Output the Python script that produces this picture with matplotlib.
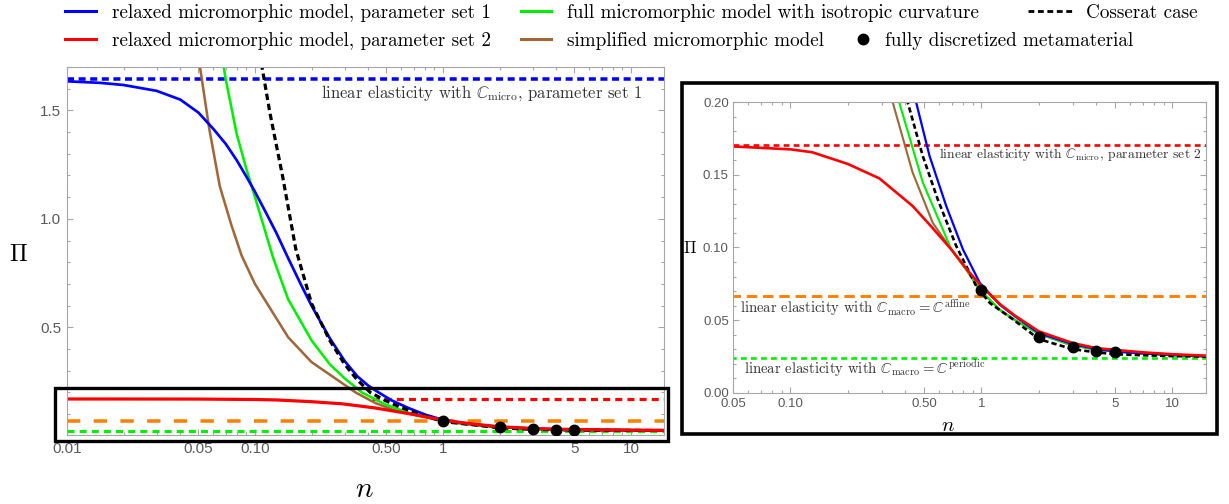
import numpy as np
import matplotlib
matplotlib.use('Agg')
import matplotlib.pyplot as plt
from matplotlib.lines import Line2D
from matplotlib.patches import Rectangle
from matplotlib.ticker import FixedLocator, FixedFormatter, NullFormatter, LogLocator

plt.rcParams['font.family'] = ['cmr10', 'DejaVu Serif']
plt.rcParams['mathtext.fontset'] = 'cm'
plt.rcParams['axes.formatter.use_mathtext'] = True

# ---- data ----
n_set1 = [0.01, 0.015, 0.02, 0.03, 0.04, 0.05, 0.06, 0.07, 0.08, 0.09, 0.1, 0.115, 0.13, 0.15, 0.175, 0.2,
          0.25, 0.3, 0.35, 0.4, 0.455, 0.535, 0.654, 0.8, 0.98, 1.25, 1.5, 2, 3, 4, 5, 7, 10, 15]
pi_set1 = [1.634, 1.627, 1.617, 1.59, 1.55, 1.49, 1.415, 1.345, 1.27, 1.195, 1.125, 1.025, 0.935, 0.82, 0.70, 0.60,
           0.45, 0.345, 0.275, 0.232, 0.200, 0.163, 0.1286, 0.0987, 0.0757, 0.0605, 0.0525, 0.041, 0.0335, 0.030,
           0.0285, 0.027, 0.026, 0.025]

n_set2 = [0.01, 0.02, 0.05, 0.1, 0.13, 0.2, 0.292, 0.436, 0.55, 0.695, 0.85, 1.0, 1.25, 1.5, 2, 3, 4, 5, 7, 10, 15]
pi_set2 = [0.1700, 0.1699, 0.1696, 0.1676, 0.1656, 0.1575, 0.1476, 0.1286, 0.114, 0.0987, 0.084, 0.0733, 0.061,
           0.053, 0.0422, 0.0342, 0.0307, 0.0295, 0.0278, 0.0265, 0.0255]

n_full = [0.06, 0.07, 0.08, 0.09, 0.1, 0.125, 0.15, 0.2, 0.25, 0.3, 0.371, 0.493, 0.6, 0.695, 0.834, 0.98,
          1.25, 1.5, 2, 3, 4, 5, 7, 10, 15]
pi_full = [2.0, 1.64, 1.39, 1.23, 1.10, 0.82, 0.63, 0.44, 0.33, 0.265, 0.200, 0.1448, 0.1185, 0.0987, 0.0849,
           0.071, 0.057, 0.050, 0.0405, 0.0325, 0.0297, 0.0283, 0.027, 0.0258, 0.025]

n_simp = [0.045, 0.05, 0.057, 0.065, 0.075, 0.085, 0.1, 0.15, 0.2, 0.3, 0.343, 0.436, 0.556, 0.695, 0.834, 0.98,
          1.25, 1.5, 2, 3, 4, 5, 7, 10, 15]
pi_simp = [2.1, 1.75, 1.42, 1.15, 0.97, 0.83, 0.70, 0.455, 0.34, 0.235, 0.200, 0.1517, 0.117, 0.0987, 0.0845,
           0.071, 0.057, 0.050, 0.0405, 0.0325, 0.0297, 0.0283, 0.027, 0.0258, 0.025]

n_coss = [0.1, 0.108, 0.12, 0.14, 0.165, 0.2, 0.25, 0.3, 0.35, 0.411, 0.493, 0.591, 0.738, 0.94, 1.106, 1.47,
          2, 3, 4, 5, 7, 10, 15]
pi_coss = [1.95, 1.72, 1.49, 1.2, 0.86, 0.61, 0.44, 0.33, 0.258, 0.200, 0.163, 0.133, 0.101, 0.0733, 0.0618,
           0.0503, 0.0369, 0.030, 0.0278, 0.0265, 0.0258, 0.0252, 0.0249]

n_fem = [1, 2, 3, 4, 5]
pi_fem = [0.0705, 0.0387, 0.0314, 0.029, 0.0277]

pi_micro1 = 1.643
pi_micro2 = 0.1705
pi_affine = 0.0665
pi_periodic = 0.0242

labels = ['relaxed micromorphic model, parameter set 1',
          'relaxed micromorphic model, parameter set 2',
          'full micromorphic model with isotropic curvature',
          'simplified micromorphic model',
          'Cosserat case',
          'fully discretized metamaterial']

xt_left = [0.01, 0.05, 0.1, 0.5, 1, 5, 10]
xl_left = ['0.01', '0.05', '0.10', '0.50', '1', '5', '10']
xt_right = [0.05, 0.1, 0.5, 1, 5, 10]
xl_right = ['0.05', '0.10', '0.50', '1', '5', '10']
yt_left = [0.5, 1.0, 1.5]
yl_left = ['0.5', '1.0', '1.5']
yt_right = [0.0, 0.05, 0.10, 0.15, 0.20]
yl_right = ['0.00', '0.05', '0.10', '0.15', '0.20']

BLUE, RED, GREEN, BROWN, ORANGE = '#0000ff', '#ff0000', '#00ee00', '#a0673a', '#ff8000'
FRAME = '#a6a6a6'

W, H = 1229, 504
fig = plt.figure(figsize=(W / 100, H / 100), dpi=100)
def frac(x0, y0, x1, y1):
    return [x0 / W, 1 - y1 / H, (x1 - x0) / W, (y1 - y0) / H]

axL = fig.add_axes(frac(67, 67, 664, 435))
axR = fig.add_axes(frac(733, 102.3, 1206, 392.7))

def curves(ax, s, red_from):
    ax.plot([0.01, 15], [pi_micro1] * 2, color=BLUE, lw=2.2 * s, dashes=(2.0, 1.3))
    ax.plot([red_from, 15], [pi_micro2] * 2, color=RED, lw=2.0 * s, dashes=(2.2, 1.6))
    ax.plot([0.01, 15], [pi_affine] * 2, color=ORANGE, lw=2.2 * s, dashes=(3.6, 2.0) if s < 1 else (3.8, 3.8))
    ax.plot([0.01, 15], [pi_periodic] * 2, color=GREEN, lw=2.0 * s, dashes=(2.2, 1.6))
    ax.plot(n_simp, pi_simp, color=BROWN, lw=1.6 * s)
    ax.plot(n_full, pi_full, color=GREEN, lw=1.6 * s)
    ax.plot(n_set1, pi_set1, color=BLUE, lw=1.7 * s)
    ax.plot(n_coss, pi_coss, color='black', lw=2.0 * s, dashes=(2.0, 1.2))
    ax.plot(n_set2, pi_set2, color=RED, lw=2.0 * s)
    ax.plot(n_fem, pi_fem, 'o', color='black', ms=7.5, zorder=5)

def frame(ax, xt, xl, yt, yl, ymin_minor, ymax_minor, ystep, fs):
    ax.set_xscale('log')
    ax.xaxis.set_major_locator(FixedLocator(xt))
    ax.xaxis.set_major_formatter(FixedFormatter(xl))
    ax.xaxis.set_minor_locator(LogLocator(base=10, subs=np.arange(2, 10)))
    ax.xaxis.set_minor_formatter(NullFormatter())
    ax.yaxis.set_major_locator(FixedLocator(yt))
    ax.yaxis.set_major_formatter(FixedFormatter(yl))
    ax.yaxis.set_minor_locator(FixedLocator(np.arange(ymin_minor, ymax_minor, ystep)))
    ax.tick_params(which='both', direction='in', top=True, right=True, color=FRAME, width=0.8)
    ax.tick_params(which='major', length=4.5, labelsize=fs, labelcolor='#5a5a5a',
                   labelfontfamily='Liberation Sans')
    ax.tick_params(which='minor', length=2.5)
    for sp in ax.spines.values():
        sp.set_color(FRAME)
        sp.set_linewidth(0.8)

curves(axL, 1.15, 0.42)
axL.set_xlim(0.01, 15)
axL.set_ylim(0.004, 1.7)
frame(axL, xt_left, xl_left, yt_left, yl_left, 0.1, 1.75, 0.1, 11)
axL.tick_params(axis='x', pad=5)
axL.tick_params(axis='y', pad=4)
axL.text(11.4, 1.578, r'linear elasticity with $\mathbb{C}_{\mathrm{micro}}$, parameter set 1',
         ha='right', va='center', fontsize=12, color='#333333')
axL.set_ylabel(r'$\Pi$', fontsize=17, rotation=0, ha='center', va='center')
axL.yaxis.set_label_coords(-0.082, 0.49)
axL.set_xlabel(r'$n$', fontsize=21, va='center')
axL.xaxis.set_label_coords(0.4975, -0.149)

curves(axR, 0.95, 0.05)
axR.set_xlim(0.05, 15)
axR.set_ylim(0, 0.2)
frame(axR, xt_right, xl_right, yt_right, yl_right, 0.0, 0.201, 0.01, 9.5)
axR.tick_params(axis='x', pad=4)
axR.tick_params(axis='y', pad=3)
axR.text(14.2, 0.1639, r'linear elasticity with $\mathbb{C}_{\mathrm{micro}}$, parameter set 2',
         ha='right', va='center', fontsize=9.8, color='#333333')
axR.text(0.0547, 0.0586, r'linear elasticity with $\mathbb{C}_{\mathrm{macro}} = \mathbb{C}^{\mathrm{affine}}$',
         ha='left', va='center', fontsize=10.6, color='#333333')
axR.text(0.0574, 0.0164, r'linear elasticity with $\mathbb{C}_{\mathrm{macro}} = \mathbb{C}^{\mathrm{periodic}}$',
         ha='left', va='center', fontsize=10.6, color='#333333')
axR.set_ylabel(r'$\Pi$', fontsize=12, rotation=0, ha='center', va='center')
axR.yaxis.set_label_coords(-0.091, 0.497)
axR.set_xlabel(r'$n$', fontsize=15, va='center')
axR.xaxis.set_label_coords(0.455, -0.115)

# highlight boxes
fig.add_artist(Rectangle((55 / W, 1 - 441 / H), 613 / W, 53 / H, transform=fig.transFigure,
                         fill=False, ec='black', lw=2.4, zorder=10))
fig.add_artist(Rectangle((681.5 / W, 1 - 434 / H), 535.5 / W, 351 / H, transform=fig.transFigure,
                         fill=False, ec='black', lw=2.6, zorder=10))

# legend, one entry at a time (irregular Mathematica layout)
handles = [Line2D([], [], color=BLUE, lw=2.2),
           Line2D([], [], color=RED, lw=2.2),
           Line2D([], [], color=GREEN, lw=2.2),
           Line2D([], [], color=BROWN, lw=2.2),
           Line2D([], [], color='black', lw=2.0, dashes=(2.1, 1.3)),
           Line2D([], [], ls='none', marker='o', color='black', ms=7.5)]
spots = [(65, 13, 1.6, 0.85), (65, 41, 1.6, 0.85), (521, 13, 1.55, 0.85), (521, 41, 1.55, 0.85),
         (1028, 13, 2.45, 0.6), (853, 41, 1.05, 0.6)]
for h, lab, (x, y, hl, tp) in zip(handles, labels, spots):
    fig.legend(handles=[h], labels=[lab], loc='center left', bbox_to_anchor=(x / W, 1 - y / H),
               frameon=False, fontsize=13.75, handlelength=hl, handletextpad=tp, borderpad=0,
               borderaxespad=0)

fig.savefig('out.png', dpi=100)
